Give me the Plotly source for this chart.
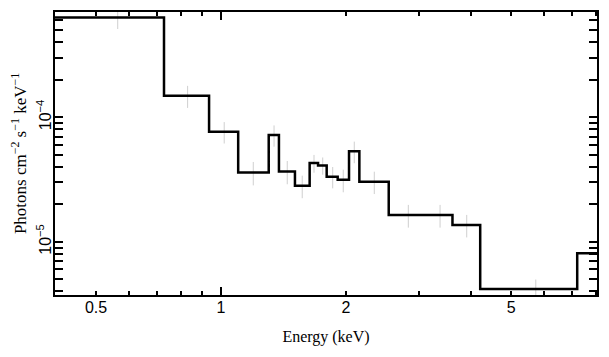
import plotly.graph_objects as go

# Bin edges (keV); first and last edges extend past the plotted range
edges = [0.30, 0.729, 0.936, 1.10, 1.303, 1.379, 1.507, 1.635, 1.713, 1.797,
         1.91, 2.034, 2.154, 2.535, 3.13, 3.61, 4.21, 7.21, 9.0]
# Folded model / flux per bin (photons cm^-2 s^-1 keV^-1)
flux = [6.35e-4, 1.49e-4, 7.66e-5, 3.61e-5, 7.21e-5, 3.68e-5, 2.82e-5, 4.29e-5,
        4.11e-5, 3.34e-5, 3.15e-5, 5.33e-5, 3.04e-5, 1.64e-5, 1.64e-5, 1.365e-5,
        4.18e-6, 8.09e-6]
# Data points (energy) and their 1-sigma errors
err_x = [0.564, 0.831, 1.018, 1.196, 1.342, 1.444, 1.569, 1.675, 1.758, 1.858,
         1.970, 2.094, 2.340, 2.826, 3.37, 3.907, 5.73]
err_y = [1.23e-4, 0.30e-4, 1.5e-5, 0.77e-5, 1.4e-5, 0.78e-5, 0.58e-5, 0.70e-5,
         0.65e-5, 0.65e-5, 0.65e-5, 1.05e-5, 0.62e-5, 0.34e-5, 0.34e-5, 0.28e-5,
         0.8e-6]
err_val = flux[:17]

x_ticks = [0.5, 1, 2, 5]
x_ticktext = ["0.5", "1", "2", "5"]
x_minor = [0.4, 0.6, 0.7, 0.8, 0.9, 3, 4, 6, 7, 8]
y_ticks = [1e-5, 1e-4]
y_ticktext = ["10<sup>\u22125</sup>", "10<sup>\u22124</sup>"]
y_minor = [4e-6, 5e-6, 6e-6, 7e-6, 8e-6, 9e-6, 2e-5, 3e-5, 4e-5, 5e-5, 6e-5,
           7e-5, 8e-5, 9e-5, 2e-4, 3e-4, 4e-4, 5e-4, 6e-4, 7e-4]

x_range = [-0.3998, 0.9056]
y_range = [-5.427, -3.154]

fig = go.Figure()
fig.add_trace(go.Scatter(
    x=err_x, y=err_val, mode="markers",
    marker=dict(size=1, opacity=0),
    error_y=dict(type="data", array=err_y, visible=True, color="#cfcfcf",
                 thickness=1, width=0),
    showlegend=False, hoverinfo="skip"))
fig.add_trace(go.Scatter(
    x=edges, y=flux + [flux[-1]], mode="lines", line_shape="hv",
    line=dict(color="black", width=2.5), showlegend=False))
# dummy trace for the overlay axis carrying the long decade tick
fig.add_trace(go.Scatter(x=[], y=[], xaxis="x2", yaxis="y", showlegend=False))

tickfont = dict(family="Liberation Sans, Arial, sans-serif", size=16, color="black")
xtitlefont = dict(family="Liberation Serif, Times New Roman, serif", size=16, color="black")
ytitlefont = dict(family="Liberation Serif, Times New Roman, serif", size=17, color="black")

# the page body adds an 8px offset, so the figure is sized to fit the window
fig.update_layout(
    width=601, height=349,
    margin=dict(l=47, r=12, t=4, b=62, autoexpand=False),
    plot_bgcolor="white", paper_bgcolor="white",
    xaxis=dict(
        type="log", range=x_range, showgrid=False, zeroline=False,
        automargin=False,
        showline=True, linecolor="black", linewidth=2, mirror="allticks",
        ticks="inside", ticklen=4, tickwidth=1.5, tickcolor="black",
        tickmode="array", tickvals=x_ticks, ticktext=x_ticktext,
        tickfont=tickfont, ticklabelstandoff=-3,
        minor=dict(tickmode="array", tickvals=x_minor, ticks="inside",
                   ticklen=4, tickwidth=1.5, tickcolor="black", showgrid=False),
        title=dict(text="Energy (keV)", font=xtitlefont, standoff=16),
    ),
    xaxis2=dict(
        type="log", range=x_range, overlaying="x", anchor="y", side="bottom",
        automargin=False,
        showgrid=False, zeroline=False, showline=False, mirror="allticks",
        ticks="inside", ticklen=8, tickwidth=1.5, tickcolor="black",
        tickmode="array", tickvals=[1], showticklabels=False,
    ),
    yaxis=dict(
        type="log", range=y_range, showgrid=False, zeroline=False,
        automargin=False,
        showline=True, linecolor="black", linewidth=2, mirror="allticks",
        ticks="inside", ticklen=8, tickwidth=1.5, tickcolor="black",
        tickmode="array", tickvals=y_ticks, ticktext=y_ticktext,
        tickangle=-90, tickfont=tickfont, ticklabelstandoff=-4,
        minor=dict(tickmode="array", tickvals=y_minor, ticks="inside",
                   ticklen=4, tickwidth=1.5, tickcolor="black", showgrid=False),
        title=dict(text="Photons cm<sup>\u22122</sup> s<sup>\u22121</sup> keV<sup>\u22121</sup>",
                   font=ytitlefont, standoff=11),
    ),
)

fig.write_html("out.html")
